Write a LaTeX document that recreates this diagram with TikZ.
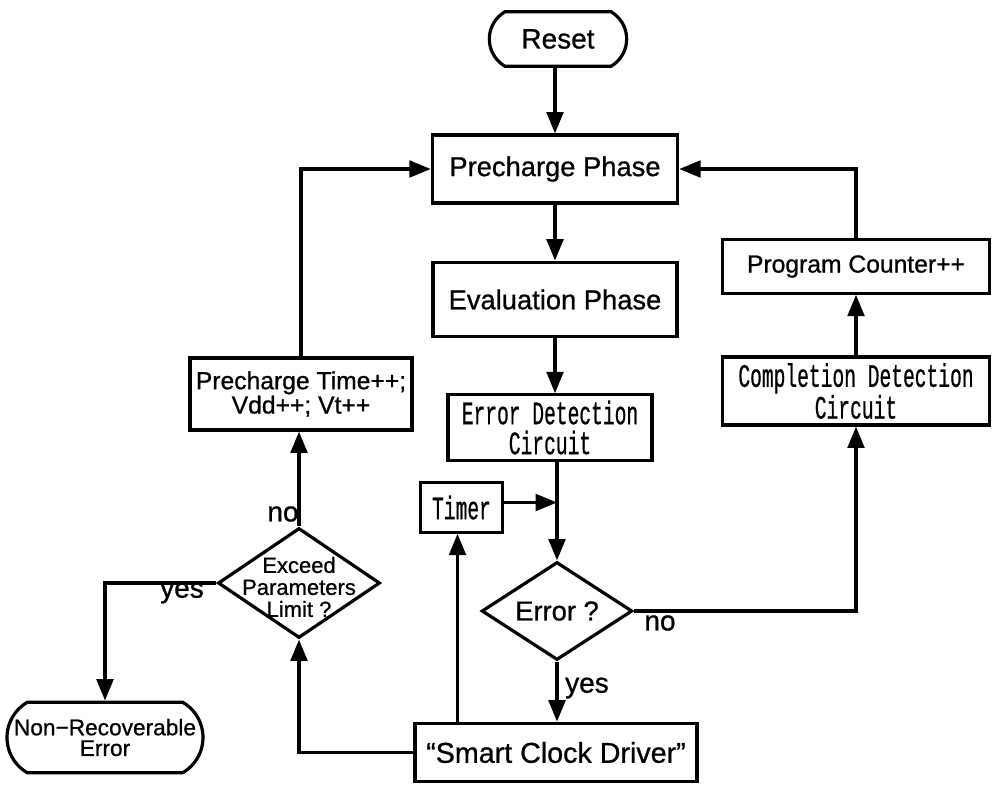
\documentclass[tikz,border=0pt]{standalone}
\usepackage{fontspec}
\setmainfont{Liberation Sans}[FakeBold=0.8]
\newfontfamily\gothic{Liberation Mono}[FakeStretch=0.6,FakeBold=0.6]
\usetikzlibrary{shapes.geometric,shapes.misc,arrows.meta}
\begin{document}
\begin{tikzpicture}[x=0.75pt,y=-0.75pt,
  line width=2.4pt,
  box/.style={draw, rectangle, inner sep=0pt, align=center},
  term/.style={draw, rounded rectangle, rounded rectangle arc length=120, inner sep=0pt, align=center},
  dia/.style={draw, diamond, inner sep=0pt},
  flow/.style={-{Triangle[length=16pt,width=12.5pt]}},
  lbl/.style={inner sep=0pt, font=\fontsize{21}{22}\selectfont},
  big/.style={font=\fontsize{20.5}{22}\selectfont},
  mono/.style={font=\gothic\fontsize{24.5}{22.5}\selectfont},
]
\useasboundingbox (0,0) rectangle (996,793);

% main column
\node[term, minimum width=103pt, minimum height=41pt, font=\fontsize{21}{22}\selectfont] (reset) at (558,39) {Reset};
\node[box, big, minimum width=184pt, minimum height=51pt] (pre) at (555,169) {Precharge Phase};
\node[box, big, minimum width=183pt, minimum height=56pt] (eval) at (555,299.5) {Evaluation Phase};
\node[box, mono, minimum width=153pt, minimum height=49pt] (edc) at (550,427.5) {Error Detection\\Circuit};
\node[box, mono, minimum width=61pt, minimum height=37pt] (timer) at (461.5,507.5) {Timer};
\node[dia, minimum width=113pt, minimum height=73.5pt] (err) at (557,611) {};
\node[inner sep=0pt, big] (errtxt) at (557,611) {Error ?};
\node[box, minimum width=211.5pt, minimum height=44pt, font=\fontsize{21.5}{22}\selectfont] (smart) at (556,752.5) {``Smart Clock Driver''};

% left branch
\node[box, minimum width=166.5pt, minimum height=54pt, font=\fontsize{18.5}{17}\selectfont] (ptime) at (301,394) {Precharge Time++;\\Vdd++; Vt++};
\node[dia, minimum width=121.5pt, minimum height=82.5pt] (exc) at (299,583) {};
\node[inner sep=0pt, align=center, font=\fontsize{16.5}{16.5}\selectfont] (exctxt) at (299,587) {Exceed\\Parameters\\Limit ?};
\node[term, minimum width=147pt, minimum height=53pt, font=\fontsize{17}{15.5}\selectfont] (nre) at (105,737.5) {Non−Recoverable\\Error};

% right branch
\node[box, minimum width=200pt, minimum height=40pt, font=\fontsize{18.5}{18}\selectfont] (pc) at (856,266.5) {Program Counter++};
\node[box, mono, minimum width=200pt, minimum height=51pt] (cdc) at (856,391) {Completion Detection\\Circuit};

% connectors
\draw[flow] (pre.north |- reset.south) -- (pre.north);
\draw[flow] (pre.south) -- (eval.north);
\draw[flow] (eval.south) -- (eval.south |- edc.north);
\draw[flow] (err.north |- edc.south) -- (err.north);
\draw[flow] ([yshift=3.75pt]timer.east) -- ([yshift=3.75pt]timer.east -| err.north);
\draw[flow] (err.south) -- (err.south |- smart.north);
\draw[flow] ([xshift=-3pt]timer.south |- smart.north) -- ([xshift=-3pt]timer.south);
\draw[flow] (err.east) -- (err.east -| cdc.south) -- (cdc.south);
\draw[flow] (cdc.north) -- (pc.south);
\draw[flow] (pc.north) -- (pc.north |- pre.east) -- (pre.east);
\draw[flow] (smart.west) -- (smart.west -| exc.south) -- (exc.south);
\draw[flow] (exc.north) -- (exc.north |- ptime.south);
\draw[flow] (ptime.north) -- (ptime.north |- pre.west) -- (pre.west);
\draw[flow] (exc.west) -- (exc.west -| nre.north) -- (nre.north);

% branch labels
\node[lbl] (noA) at (283,514) {no};
\node[lbl] (yesA) at (182,593) {yes};
\node[lbl] (noB) at (660,623) {no};
\node[lbl] (yesB) at (587,688) {yes};
\end{tikzpicture}
\end{document}
